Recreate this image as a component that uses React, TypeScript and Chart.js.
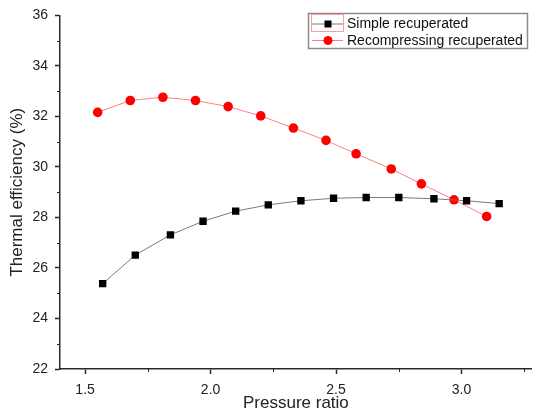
import React, { useEffect, useRef } from "react";
import { Chart, registerables } from "chart.js";

Chart.register(...registerables);

const simpleLabel = "Simple recuperated";
const recompLabel = "Recompressing recuperated";

const simpleX = [1.57, 1.70, 1.84, 1.97, 2.10, 2.23, 2.36, 2.49, 2.62, 2.75, 2.89, 3.02, 3.15];
const simpleY = [25.38, 26.51, 27.31, 27.85, 28.25, 28.50, 28.66, 28.76, 28.79, 28.79, 28.74, 28.66, 28.55];

const recompX = [1.55, 1.68, 1.81, 1.94, 2.07, 2.20, 2.33, 2.46, 2.58, 2.72, 2.84, 2.97, 3.10];
const recompY = [32.16, 32.63, 32.76, 32.63, 32.39, 32.02, 31.54, 31.05, 30.52, 29.92, 29.33, 28.70, 28.04];

const xTicks = [1.5, 2.0, 2.5, 3.0];
const xMinorTicks = [1.75, 2.25, 2.75, 3.25];
const yTicks = [22, 24, 26, 28, 30, 32, 34, 36];
const yMinorTicks = [23, 25, 27, 29, 31, 33, 35];

const FONT = "'Liberation Sans', Arial, sans-serif";
const AXIS_COLOR = "#2a2a2a";

const minorTickPlugin = {
  id: "minorTicks",
  afterDraw(chart: any) {
    const ctx = chart.ctx;
    const xs = chart.scales.x;
    const ys = chart.scales.y;
    const area = chart.chartArea;
    ctx.save();
    ctx.strokeStyle = AXIS_COLOR;
    ctx.lineWidth = 1;
    ctx.beginPath();
    xMinorTicks.forEach((v) => {
      const px = Math.round(xs.getPixelForValue(v)) + 0.5;
      ctx.moveTo(px, area.bottom);
      ctx.lineTo(px, area.bottom + 3);
    });
    yMinorTicks.forEach((v) => {
      const py = Math.round(ys.getPixelForValue(v)) + 0.5;
      ctx.moveTo(area.left, py);
      ctx.lineTo(area.left - 3, py);
    });
    ctx.stroke();
    ctx.restore();
  },
};

const legendPlugin = {
  id: "boxLegend",
  afterDraw(chart: any) {
    const ctx = chart.ctx;
    ctx.save();
    const bx = 308.5, by = 13.5, bw = 219, bh = 35;
    ctx.fillStyle = "#ffffff";
    ctx.fillRect(bx, by, bw, bh);
    ctx.strokeStyle = "#8c8c8c";
    ctx.lineWidth = 1.5;
    ctx.strokeRect(bx, by, bw, bh);
    // selection artifact around first sample
    ctx.strokeStyle = "#f4a0a0";
    ctx.lineWidth = 1;
    ctx.strokeRect(311.5, 14.5, 32, 17);
    const rows = [24, 40.5];
    chart.data.datasets.forEach((ds: any, i: number) => {
      const y = rows[i];
      ctx.strokeStyle = ds.borderColor;
      ctx.lineWidth = 1;
      ctx.beginPath();
      ctx.moveTo(312, y);
      ctx.lineTo(343, y);
      ctx.stroke();
      ctx.fillStyle = ds.pointBackgroundColor;
      if (ds.pointStyle === "rect") {
        ctx.fillRect(328 - 3.5, y - 3.5, 7, 7);
      } else {
        ctx.beginPath();
        ctx.arc(328, y, 4.5, 0, Math.PI * 2);
        ctx.fill();
      }
      ctx.fillStyle = "#111";
      ctx.font = `14px ${FONT}`;
      ctx.textBaseline = "middle";
      ctx.textAlign = "left";
      ctx.fillText(ds.label, 347, y + 0.5);
    });
    ctx.restore();
  },
};

export default function App() {
  const ref = useRef<HTMLCanvasElement | null>(null);

  useEffect(() => {
    if (!ref.current) return;
    const chart = new Chart(ref.current, {
      type: "line",
      data: {
        datasets: [
          {
            label: simpleLabel,
            data: simpleX.map((x, i) => ({ x, y: simpleY[i] })),
            borderColor: "#7a7a7a",
            borderWidth: 1,
            pointStyle: "rect",
            pointRadius: 5.2,
            pointBackgroundColor: "#000000",
            pointBorderColor: "#000000",
            pointBorderWidth: 0,
            tension: 0,
          },
          {
            label: recompLabel,
            data: recompX.map((x, i) => ({ x, y: recompY[i] })),
            borderColor: "#ff8080",
            borderWidth: 1,
            pointStyle: "circle",
            pointRadius: 4.8,
            pointBackgroundColor: "#ff0000",
            pointBorderColor: "#ff0000",
            pointBorderWidth: 0,
            tension: 0,
          },
        ],
      },
      options: {
        responsive: false,
        animation: false,
        devicePixelRatio: 1,
        layout: { padding: { top: 15, right: 0, left: 0, bottom: 0 } },
        plugins: {
          legend: { display: false },
          tooltip: { enabled: false },
        },
        scales: {
          x: {
            type: "linear",
            min: 1.4,
            max: 3.28,
            afterBuildTicks: (scale: any) => {
              scale.ticks = xTicks.map((v) => ({ value: v }));
            },
            afterFit: (scale: any) => {
              scale.height = 46;
            },
            grid: {
              display: true,
              drawOnChartArea: false,
              drawTicks: true,
              tickLength: 5,
              tickColor: AXIS_COLOR,
              tickWidth: 1.5,
            },
            border: { display: true, color: AXIS_COLOR, width: 1.5 },
            ticks: {
              autoSkip: false,
              maxRotation: 0,
              padding: 8,
              color: "#222",
              font: { family: FONT, size: 14 },
              callback: (v: any) => Number(v).toFixed(1),
            },
            title: {
              display: true,
              text: "Pressure ratio",
              color: "#222",
              font: { family: FONT, size: 17 },
              padding: { top: 0, bottom: 1 },
            },
          },
          y: {
            type: "linear",
            min: 22,
            max: 36,
            afterBuildTicks: (scale: any) => {
              scale.ticks = yTicks.map((v) => ({ value: v }));
            },
            afterFit: (scale: any) => {
              scale.width = 60;
            },
            grid: {
              display: true,
              drawOnChartArea: false,
              drawTicks: true,
              tickLength: 5,
              tickColor: AXIS_COLOR,
              tickWidth: 1.5,
            },
            border: { display: true, color: AXIS_COLOR, width: 1.5 },
            ticks: {
              autoSkip: false,
              padding: 7,
              color: "#222",
              font: { family: FONT, size: 14 },
              callback: (v: any) => String(v),
            },
            title: {
              display: true,
              text: "Thermal efficiency (%)",
              color: "#222",
              font: { family: FONT, size: 17 },
              padding: { top: 7, bottom: 0 },
            },
          },
        },
      },
      plugins: [minorTickPlugin, legendPlugin],
    });
    return () => chart.destroy();
  }, []);

  return (
    <div style={{ position: "absolute", left: 0, top: 0, width: 537, height: 415, background: "#fff" }}>
      <canvas ref={ref} width={537} height={415} style={{ display: "block" }} />
    </div>
  );
}
